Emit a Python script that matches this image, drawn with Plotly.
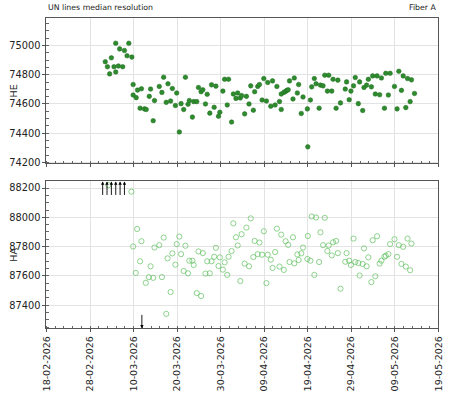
import pandas as pd
import plotly.graph_objects as go
from plotly.subplots import make_subplots

START = pd.Timestamp("2026-02-18")

# ---- HE (top panel) : day offset from 18-02-2026, value ----
he_days = [13.5, 14.0, 14.5, 14.9, 15.5, 15.9, 15.9, 16.5, 16.8, 17.5, 17.9, 18.5, 18.9, 19.6,
           19.9, 19.9, 20.6, 20.9, 21.5, 21.8, 22.5, 22.9, 23.6, 23.9, 24.5, 24.8, 25.9, 26.5,
           26.9, 27.5, 27.9, 28.5, 28.9, 29.6, 29.9, 30.5, 30.9, 31.5, 31.9, 32.5, 32.8, 33.5,
           33.8, 34.5, 34.9, 35.5, 35.9, 36.5, 36.9, 37.5, 37.9, 38.5, 38.9, 39.5, 39.8, 40.5,
           40.9, 41.5, 41.8, 42.5, 42.9, 43.5, 43.9, 44.5, 44.8, 45.5, 45.9, 46.5, 46.9, 47.5,
           47.8, 48.5, 48.9, 49.5, 49.9, 50.5, 50.8, 51.5, 51.9, 52.5, 52.9, 53.5, 53.9, 53.9,
           54.5, 54.9, 55.2, 55.5, 55.8, 56.6, 56.9, 57.6, 57.9, 58.5, 58.9, 59.9, 60.0, 60.6,
           60.9, 61.5, 61.9, 62.6, 62.9, 63.5, 63.9, 64.5, 64.8, 65.5, 65.8, 66.5, 66.9, 67.5,
           68.6, 68.9, 69.5, 69.9, 70.5, 70.9, 71.6, 71.9, 72.6, 72.9, 73.5, 73.9, 74.6, 74.9,
           75.5, 75.9, 76.5, 76.9, 77.6, 77.9, 78.5, 78.9, 79.9, 80.5, 80.9, 81.5, 81.9, 82.5,
           82.9, 83.5, 83.8, 84.5]
he_vals = [74889, 74855, 74806, 74916, 74855, 75016, 74819, 74860, 74977, 74855, 74966, 74930, 75016, 74921,
           74733, 74661, 74643, 74695, 74571, 74704, 74566, 74562, 74652, 74702, 74485, 74623, 74720, 74679,
           74783, 74611, 74738, 74620, 74706, 74589, 74675, 74408, 74602, 74562, 74783, 74598, 74623, 74510,
           74616, 74616, 74713, 74684, 74697, 74600, 74666, 74537, 74731, 74577, 74722, 74516, 74543, 74688,
           74769, 74593, 74769, 74476, 74668, 74638, 74675, 74641, 74657, 74532, 74652, 74600, 74724, 74557,
           74684, 74720, 74733, 74627, 74774, 74620, 74747, 74584, 74758, 74593, 74720, 74616, 74668, 74562,
           74679, 74686, 74693, 74697, 74758, 74634, 74778, 74675, 74733, 74535, 74648, 74566, 74306, 74627,
           74717, 74774, 74738, 74571, 74729, 74724, 74797, 74688, 74797, 74688, 74769, 74571, 74763, 74607,
           74702, 74751, 74629, 74688, 74724, 74781, 74602, 74751, 74555, 74713, 74729, 74769, 74717, 74792,
           74668, 74792, 74663, 74778, 74571, 74810, 74661, 74810, 74720, 74566, 74824, 74693, 74792, 74575,
           74774, 74616, 74765, 74672]

# ---- HA (bottom panel) ----
ha_days = [14.2, 19.5, 19.9, 20.5, 20.8, 21.5, 21.8, 22.8, 23.5, 23.9, 24.5, 24.8, 25.9, 26.5, 26.9,
           27.5, 27.8, 28.5, 28.9, 29.6, 29.9, 30.5, 30.9, 31.5, 31.9, 32.5, 32.8, 33.5, 33.8,
           34.5, 34.9, 35.5, 35.9, 36.5, 36.9, 37.5, 37.9, 38.5, 38.9, 39.5, 39.8, 40.5, 40.9,
           41.5, 41.8, 42.5, 42.9, 43.5, 43.9, 44.5, 44.8, 45.5, 45.9, 46.5, 46.9, 47.5, 47.8,
           48.5, 48.9, 49.5, 49.9, 50.5, 50.8, 51.5, 51.9, 52.5, 52.9, 53.5, 53.9, 54.5, 54.9,
           55.5, 55.8, 56.6, 56.9, 57.6, 57.9, 58.5, 58.9, 59.9, 60.0, 60.6, 60.9, 61.5, 61.9,
           62.6, 62.9, 63.5, 63.9, 64.5, 64.8, 65.5, 65.8, 66.5, 66.9, 67.5, 68.6, 68.9, 69.5,
           69.9, 70.5, 70.9, 71.6, 71.9, 72.6, 72.9, 73.5, 73.9, 74.6, 74.9, 75.5, 75.9, 76.5,
           76.9, 77.6, 77.9, 78.5, 78.9, 79.9, 80.5, 80.9, 81.5, 81.9, 82.5, 82.9, 83.5, 83.8]
ha_vals = [88220, 88175, 87801, 87621, 87921, 87700, 87837, 87553, 87592, 87666, 87587, 87794, 87810, 87592, 87862,
           87341, 87720, 87490, 87754, 87677, 87817, 87869, 87749, 87634, 87806, 87618, 87704, 87704, 87675,
           87483, 87767, 87463, 87756, 87616, 87700, 87618, 87700, 87731, 87792, 87668, 87727, 87643, 87693,
           87607, 87731, 87770, 87959, 87864, 87808, 87565, 87885, 87684, 87930, 87666, 87993, 87729, 87839,
           87749, 87828, 87745, 87905, 87551, 87745, 87711, 87655, 87763, 87923, 87664, 87882, 87641, 87837,
           87812, 87695, 87864, 87686, 87747, 87709, 87754, 87794, 87716, 87873, 87704, 88006, 87607, 87999,
           87695, 87898, 87810, 87997, 87770, 87808, 87740, 87830, 87839, 87756, 87513, 87697, 87756, 87704,
           87675, 87855, 87695, 87688, 87603, 87682, 87788, 87666, 87727, 87558, 87844, 87598, 87871, 87684,
           87704, 87731, 87738, 87749, 87817, 87851, 87731, 87810, 87682, 87799, 87664, 87855, 87639, 87821]

# out-of-range HA points (arrows)
ha_above_days = [12.9, 13.9, 14.9, 15.9, 16.9, 17.9]
ha_below_days = [21.9]

x_ticks = ["18-02-2026", "28-02-2026", "10-03-2026", "20-03-2026", "30-03-2026",
           "09-04-2026", "19-04-2026", "29-04-2026", "09-05-2026", "19-05-2026"]
he_ticks = [74200, 74400, 74600, 74800, 75000]
ha_ticks = [87400, 87600, 87800, 88000, 88200]

he_range = [74193, 75188]
ha_range = [87242, 88245]

def to_dates(days):
    return [START + pd.Timedelta(days=d) for d in days]

fig = make_subplots(rows=2, cols=1, shared_xaxes=False)

fig.add_trace(go.Scatter(
    x=to_dates(he_days), y=he_vals, mode="markers",
    marker=dict(symbol="circle", size=4.6, color="#2e8b2e",
                line=dict(color="#1f6b1f", width=0.5)),
    showlegend=False), row=1, col=1)

fig.add_trace(go.Scatter(
    x=to_dates(ha_days), y=ha_vals, mode="markers",
    marker=dict(symbol="circle-open", size=5.2, color="rgba(90,190,90,0.75)",
                line=dict(width=0.9)),
    showlegend=False), row=2, col=1)

annotations = []
for d in ha_above_days:
    annotations.append(dict(x=START + pd.Timedelta(days=d), y=ha_range[1], xref="x2", yref="y2",
                            showarrow=True, ax=0, ay=15, arrowhead=2, arrowsize=0.75,
                            arrowwidth=0.9, arrowcolor="black", standoff=0, text=""))
for d in ha_below_days:
    annotations.append(dict(x=START + pd.Timedelta(days=d), y=ha_range[0], xref="x2", yref="y2",
                            showarrow=True, ax=0, ay=-15, arrowhead=2, arrowsize=0.75,
                            arrowwidth=0.9, arrowcolor="black", standoff=0, text=""))

font_family = "DejaVu Sans"
annotations += [
    dict(text="UN lines median resolution", x=41.5 / 450, y=1 - 14 / 400, xref="paper", yref="paper",
         xanchor="left", yanchor="bottom", showarrow=False,
         font=dict(size=7.8, color="#222", family=font_family)),
    dict(text="Fiber A", x=443.5 / 450, y=1 - 14 / 400, xref="paper", yref="paper",
         xanchor="right", yanchor="bottom", showarrow=False,
         font=dict(size=7.8, color="#222", family=font_family)),
    dict(text="HE", x=7.5 / 450, y=1 - 92 / 400, xref="paper", yref="paper",
         xanchor="center", yanchor="middle", textangle=-90, showarrow=False,
         font=dict(size=9.5, color="#222", family=font_family)),
    dict(text="HA", x=7.5 / 450, y=1 - 257 / 400, xref="paper", yref="paper",
         xanchor="center", yanchor="middle", textangle=-90, showarrow=False,
         font=dict(size=9.5, color="#222", family=font_family)),
]

x_range = [pd.Timestamp("2026-02-18"), pd.Timestamp("2026-05-19")]
tickvals = [pd.to_datetime(t, format="%d-%m-%Y") for t in x_ticks]

common_x = dict(range=x_range, tickmode="array", tickvals=tickvals, ticktext=x_ticks,
                showgrid=True, gridcolor="#e3e3e3", gridwidth=1,
                showline=True, linecolor="#555", linewidth=1, mirror=True,
                ticks="outside", ticklen=3, tickcolor="#555",
                minor=dict(dtick=2 * 86400000, tick0="2026-02-18", ticks="inside",
                           ticklen=2.5, tickcolor="#666", showgrid=False),
                zeroline=False)
common_y = dict(showgrid=True, gridcolor="#e3e3e3", gridwidth=1,
                showline=True, linecolor="#555", linewidth=1, mirror=True,
                ticks="outside", ticklen=3, tickcolor="#555",
                minor=dict(dtick=50, ticks="inside", ticklen=2.5, tickcolor="#666", showgrid=False),
                zeroline=False, tickfont=dict(size=9.8, color="#222", family=font_family))

fig.update_layout(
    width=450, height=400,
    margin=dict(l=0, r=0, t=0, b=0),
    paper_bgcolor="white", plot_bgcolor="white",
    font=dict(family=font_family, color="#222"),
    annotations=annotations,
    xaxis=dict(common_x, domain=[41.5 / 450, 443.3 / 450], anchor="y", showticklabels=False),
    yaxis=dict(common_y, domain=[1 - 165 / 400, 1 - 18.3 / 400], range=he_range, anchor="x",
               tickmode="array", tickvals=he_ticks, ticktext=[str(v) for v in he_ticks]),
    xaxis2=dict(common_x, domain=[41.5 / 450, 443.3 / 450], anchor="y2", tickangle=-90,
                tickfont=dict(size=9.5, color="#222", family=font_family)),
    yaxis2=dict(common_y, domain=[1 - 331.7 / 400, 1 - 183.3 / 400], range=ha_range, anchor="x2",
                tickmode="array", tickvals=ha_ticks, ticktext=[str(v) for v in ha_ticks]),
)

fig.write_html("out.html")
